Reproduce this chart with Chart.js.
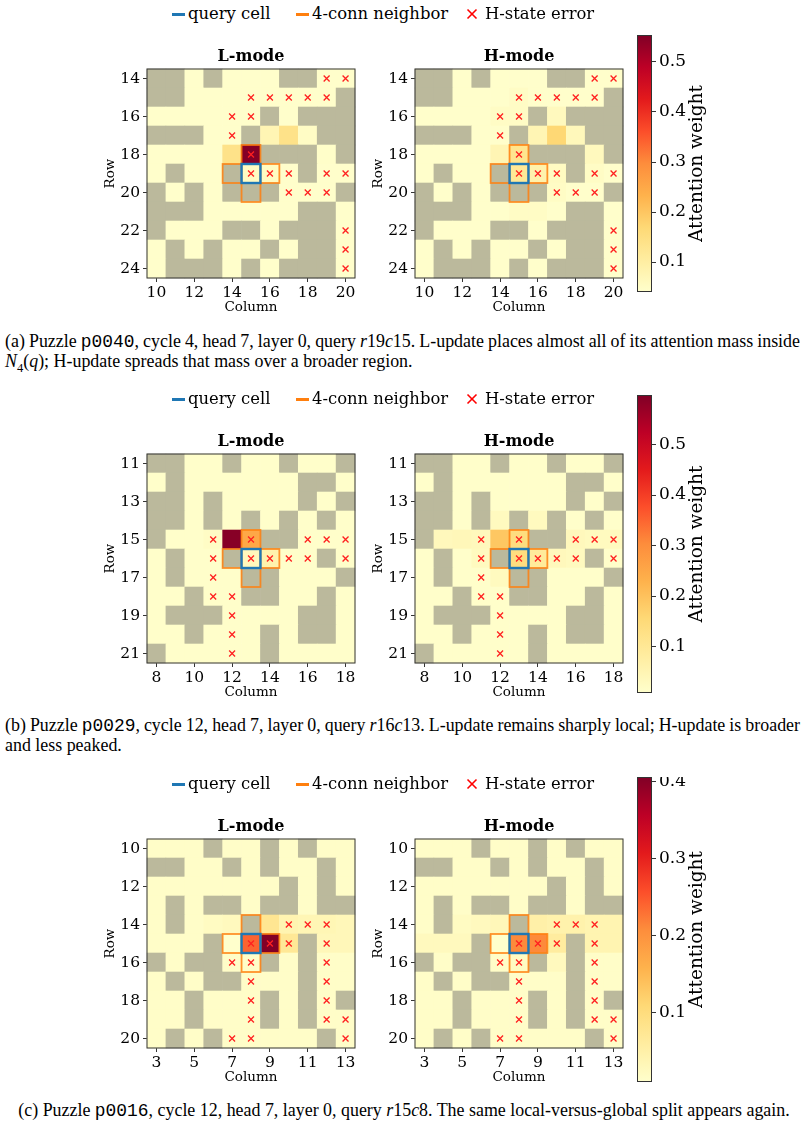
<!DOCTYPE html>
<html><head><meta charset="utf-8">
<script src="https://cdn.jsdelivr.net/npm/chart.js@4.4.1/dist/chart.umd.min.js"></script>
<style>
body{margin:0;background:#fff;}
#fig{position:relative;width:806px;height:1127px;overflow:hidden;background:#fff;}
#fig canvas{position:absolute;}
.li{position:absolute;height:22px;line-height:22px;white-space:nowrap;font-family:'DejaVu Serif';font-size:16.4px;color:#000;}
.sym{position:absolute;height:2.5px;}
.cap{position:absolute;font-family:'Liberation Serif';white-space:nowrap;color:#000;line-height:20px;}
.cap .tt{font-family:'Liberation Mono';}
.cap i{font-style:italic;}
</style></head><body><div id="fig"></div>
<script>
// ---------------- DATA ----------------
const YLORRD = ['#ffffcc','#ffeda0','#fed976','#feb24c','#fd8d3c','#fc4e2a','#e31a1c','#bd0026','#800026'];

// Panel (a)
const aRows = [14,15,16,17,18,19,20,21,22,23,24];
const aCols = [10,11,12,13,14,15,16,17,18,19,20];
const aRowTicks = [14,16,18,20,22,24];
const aColTicks = [10,12,14,16,18,20];
const aMaze = [
 "##.#...##..",
 "##........#",
 "......#.###",
 "###..#...##",
 "......###.#",
 ".#..#...#..",
 "#.#.###...#",
 "###.....##.",
 "#...##.###.",
 ".#.#..#.##.",
 ".###.#.###."];
const aErrors = [[14,19],[14,20],[15,15],[15,16],[15,17],[15,18],[15,19],[16,14],[16,15],[17,14],[18,15],[19,15],[19,16],[19,17],[19,19],[19,20],[20,17],[20,18],[20,19],[22,20],[23,20],[24,20]];
const aQuery = [19,15];
const aBase = 0.042;
const aAttnL = [[18,15,0.55],[18,14,0.14],[17,17,0.14],[17,16,0.075],[19,15,0.055],[19,16,0.055],[17,18,0.05],[18,19,0.045]];
const aAttnH = [[17,17,0.17],[18,15,0.13],[19,15,0.12],[19,16,0.085],[18,14,0.075],[17,16,0.075],[17,18,0.065],[16,17,0.06],[18,19,0.06],[19,17,0.055],[19,19,0.05],[16,14,0.05],[16,15,0.05],[15,15,0.05],[20,17,0.05],[21,15,0.05],[21,16,0.05]];
const aRange = [0.04, 0.554];
const aCbarTicks = [0.1,0.2,0.3,0.4,0.5];

// Panel (b)
const bRows = [11,12,13,14,15,16,17,18,19,20,21];
const bCols = [8,9,10,11,12,13,14,15,16,17,18];
const bRowTicks = [11,13,15,17,19,21];
const bColTicks = [8,10,12,14,16,18];
const bMaze = [
 "##..#..#..#",
 ".#......##.",
 "##.#....#.#",
 "##.#.#.#.#.",
 "#.....##...",
 ".#..#....#.",
 ".#...##...#",
 "..#..##..#.",
 ".###....##.",
 "..#...#.##.",
 "#.....#...."];
const bErrors = [[15,11],[15,13],[15,16],[15,17],[15,18],[16,11],[16,13],[16,14],[16,15],[16,16],[16,18],[17,11],[18,11],[18,12],[19,12],[20,12],[21,12]];
const bQuery = [16,13];
const bBase = 0.012;
const bAttnL = [[15,12,0.59],[15,13,0.25],[16,14,0.06],[16,13,0.035],[15,11,0.02]];
const bAttnH = [[15,12,0.19],[15,13,0.14],[16,13,0.14],[16,14,0.09],[15,10,0.04],[15,9,0.035],[15,11,0.035],[16,15,0.035],[15,16,0.035],[15,17,0.03],[15,18,0.03],[16,16,0.03],[16,11,0.03],[14,12,0.03],[14,14,0.03],[17,12,0.03]];
const bRange = [0.008, 0.598];
const bCbarTicks = [0.1,0.2,0.3,0.4,0.5];

// Panel (c)
const cRows = [10,11,12,13,14,15,16,17,18,19,20];
const cCols = [3,4,5,6,7,8,9,10,11,12,13];
const cRowTicks = [10,12,14,16,18,20];
const cColTicks = [3,5,7,9,11,13];
const cMaze = [
 "...#..#.#..",
 "##..#.#..#.",
 ".......#.#.",
 ".#.##.##.##",
 ".#...#.....",
 "...#....#..",
 "#.##..#.#..",
 ".#.##...#..",
 "..#...#.#.#",
 "..#...#.#..",
 ".#.#.....#."];
const cErrors = [[14,10],[14,11],[14,12],[15,8],[15,9],[15,10],[15,12],[16,7],[16,8],[16,12],[17,8],[17,12],[18,8],[18,12],[19,8],[19,12],[19,13],[20,7],[20,8],[20,13]];
const cQuery = [15,8];
const cBase = 0.014;
const cAttnL = [[15,9,0.405],[15,8,0.24],[14,9,0.075],[15,10,0.07],[14,10,0.04],[14,11,0.035],[14,12,0.035],[15,12,0.03],[15,13,0.03],[14,13,0.03],[14,7,0.025],[14,6,0.02],[15,7,0.009]];
const cAttnH = [[15,8,0.21],[15,9,0.21],[15,10,0.06],[14,9,0.05],[14,10,0.045],[14,11,0.045],[14,12,0.04],[14,13,0.04],[15,12,0.04],[15,13,0.04],[14,7,0.03],[14,6,0.025],[15,3,0.025],[15,4,0.025],[15,5,0.025],[15,7,0.009],[16,8,0.02],[16,10,0.025],[14,5,0.02]];
const cRange = [0.009, 0.406];
const cCbarTicks = [0.1,0.2,0.3,0.4];

const legendLabels = ['query cell','4-conn neighbor','H-state error'];
const modeTitles = ['L-mode','H-mode'];

// ---------------- RENDER ----------------
Chart.defaults.font.family = "'DejaVu Serif'";
Chart.defaults.color = '#000';
const fig = document.getElementById('fig');
const WALL = '#bbb99c';

function hexRgb(h){return [parseInt(h.slice(1,3),16),parseInt(h.slice(3,5),16),parseInt(h.slice(5,7),16)];}
function cmap(t){
  t=Math.max(0,Math.min(1,t));
  const n=YLORRD.length-1, f=t*n, i=Math.min(Math.floor(f),n-1), u=f-i;
  const a=hexRgb(YLORRD[i]), b=hexRgb(YLORRD[i+1]);
  return 'rgb('+a.map((v,k)=>Math.round(v+(b[k]-v)*u)).join(',')+')';
}

function heatmap(o){
  const YW=60, TOPH=30, XH=42, PR=14;
  const cv=document.createElement('canvas');
  const W=208+YW+PR, H=TOPH+209+XH;
  cv.width=W; cv.height=H;
  cv.style.left=(o.left-YW)+'px'; cv.style.top=(o.top-TOPH)+'px';
  fig.appendChild(cv);
  const rows=o.rows, cols=o.cols;
  const attn={}; o.attn.forEach(([r,c,v])=>{attn[r+'_'+c]=v;});
  const cellPlugin={id:'cells',beforeDatasetsDraw(chart){
    const {ctx,scales:{x,y}}=chart;
    const rect=(r,c)=>{const x0=x.getPixelForValue(c-0.5),x1=x.getPixelForValue(c+0.5),y0=y.getPixelForValue(r-0.5),y1=y.getPixelForValue(r+0.5);return [Math.min(x0,x1),Math.min(y0,y1),Math.abs(x1-x0),Math.abs(y1-y0)];};
    ctx.save();
    rows.forEach((r,ri)=>cols.forEach((c,ci)=>{
      const wall=o.maze[ri][ci]==='#';
      const v=attn[r+'_'+c]!==undefined?attn[r+'_'+c]:o.base;
      ctx.fillStyle=wall?WALL:cmap((v-o.range[0])/(o.range[1]-o.range[0]));
      const [a,b,w,h]=rect(r,c);
      ctx.fillRect(a-0.3,b-0.3,w+0.6,h+0.6);
    }));
    const [qr,qc]=o.query;
    ctx.strokeStyle='rgba(255,127,14,0.85)'; ctx.lineWidth=1.8;
    [[qr-1,qc],[qr+1,qc],[qr,qc-1],[qr,qc+1]].forEach(([r,c])=>{const [a,b,w,h]=rect(r,c);ctx.strokeRect(a,b,w,h);});
    ctx.strokeStyle='#1f77b4'; ctx.lineWidth=2.4;
    {const [a,b,w,h]=rect(qr,qc);ctx.strokeRect(a,b,w,h);}
    const ca=chart.chartArea;
    ctx.strokeStyle='#333'; ctx.lineWidth=1;
    ctx.strokeRect(ca.left,ca.top,ca.right-ca.left,ca.bottom-ca.top);
    ctx.restore();
  }};
  new Chart(cv,{type:'scatter',
    data:{datasets:[{data:o.errors.map(([r,c])=>({x:c,y:r})),pointStyle:'crossRot',pointRadius:4.2,borderColor:'#ff2020',borderWidth:1.3,backgroundColor:'rgba(0,0,0,0)'}]},
    options:{responsive:false,animation:false,events:[],
      layout:{padding:{left:0,right:PR,top:0,bottom:0}},
      plugins:{legend:{display:false},tooltip:{enabled:false},
        title:{display:true,text:o.title,fullSize:false,font:{family:"'DejaVu Serif'",size:16,weight:'bold'},color:'#000',padding:{top:8.4,bottom:2.4}}},
      scales:{
        x:{type:'linear',min:cols[0]-0.5,max:cols[cols.length-1]+0.5,
          afterBuildTicks:s=>{s.ticks=o.colTicks.map(v=>({value:v}));},
          afterFit:s=>{s.height=XH;s.paddingLeft=0;s.paddingRight=0;},
          ticks:{font:{size:15.5},color:'#000',padding:2,maxRotation:0,autoSkip:false},
          grid:{drawOnChartArea:false,drawTicks:true,tickLength:4,color:'#000',lineWidth:0.8},
          border:{display:false},
          title:{display:true,text:'Column',font:{size:13.5},color:'#000',padding:{top:0,bottom:4}}},
        y:{type:'linear',reverse:true,min:rows[0]-0.5,max:rows[rows.length-1]+0.5,
          afterBuildTicks:s=>{s.ticks=o.rowTicks.map(v=>({value:v}));},
          afterFit:s=>{s.width=YW;s.paddingTop=0;s.paddingBottom=0;},
          ticks:{font:{size:15.5},color:'#000',padding:3,autoSkip:false},
          grid:{drawOnChartArea:false,drawTicks:true,tickLength:4,color:'#000',lineWidth:0.8},
          border:{display:false},
          title:{display:true,text:'Row',font:{size:13.5},color:'#000',padding:{top:15,bottom:0}}}
      }},
    plugins:[cellPlugin]});
}

function colorbar(o){
  const CW=15, AW=80;
  const cv=document.createElement('canvas');
  cv.width=CW+AW; cv.height=o.height;
  cv.style.left='637px'; cv.style.top=o.top+'px';
  fig.appendChild(cv);
  const cbPlugin={id:'cb',beforeDatasetsDraw(chart){
    const {ctx,chartArea:ca}=chart;
    ctx.save();
    const g=ctx.createLinearGradient(0,ca.bottom,0,ca.top);
    YLORRD.forEach((c,i)=>g.addColorStop(i/(YLORRD.length-1),c));
    ctx.fillStyle=g; ctx.fillRect(ca.left,ca.top,ca.right-ca.left,ca.bottom-ca.top);
    ctx.strokeStyle='#333'; ctx.lineWidth=1;
    ctx.strokeRect(ca.left+0.5,ca.top+0.5,ca.right-ca.left-1,ca.bottom-ca.top-1);
    ctx.translate(ca.right+45,(ca.top+ca.bottom)/2); ctx.rotate(-Math.PI/2);
    ctx.fillStyle='#000'; ctx.font="18.5px 'DejaVu Serif'"; ctx.textAlign='center'; ctx.textBaseline='middle';
    ctx.fillText('Attention weight',0,0);
    ctx.restore();
  }};
  new Chart(cv,{type:'scatter',data:{datasets:[{data:[]}]},
    options:{responsive:false,animation:false,events:[],
      layout:{padding:0},
      plugins:{legend:{display:false},tooltip:{enabled:false}},
      scales:{
        x:{display:false,min:0,max:1},
        y:{type:'linear',position:'right',min:o.range[0],max:o.range[1],
          afterBuildTicks:s=>{s.ticks=o.ticks.map(v=>({value:v}));},
          afterFit:s=>{s.width=AW;s.paddingTop=0;s.paddingBottom=0;},
          ticks:{font:{size:17},color:'#000',padding:3,autoSkip:false},
          grid:{drawOnChartArea:false,drawTicks:true,tickLength:4,color:'#000',lineWidth:0.8},
          border:{display:false}}
      }},
    plugins:[cbPlugin]});
}

function legend(cy){
  const mk=(html,left)=>{const d=document.createElement('div');d.className='li';d.style.left=left+'px';d.style.top=(cy-11)+'px';d.innerHTML=html;fig.appendChild(d);};
  const line=(left,color)=>{const d=document.createElement('div');d.className='sym';d.style.left=left+'px';d.style.top=(cy-1)+'px';d.style.width='13px';d.style.background=color;fig.appendChild(d);};
  line(172,'#1f77b4'); mk(legendLabels[0],188);
  line(296,'#ff7f0e'); mk(legendLabels[1],312);
  const s=document.createElementNS('http://www.w3.org/2000/svg','svg');
  s.setAttribute('width','12');s.setAttribute('height','12');
  s.style.position='absolute';s.style.left='466px';s.style.top=(cy-6)+'px';
  s.innerHTML='<line x1="1.5" y1="1.5" x2="10.5" y2="10.5" stroke="#ff0000" stroke-width="1.6"/><line x1="10.5" y1="1.5" x2="1.5" y2="10.5" stroke="#ff0000" stroke-width="1.6"/>';
  fig.appendChild(s);
  mk(legendLabels[2],485);
}

const panels=[
 {top:69, rows:aRows, cols:aCols, rowTicks:aRowTicks, colTicks:aColTicks, maze:aMaze, errors:aErrors, query:aQuery, base:aBase, L:aAttnL, H:aAttnH, range:aRange, cbTicks:aCbarTicks, cbTop:35, cbH:257},
 {top:454, rows:bRows, cols:bCols, rowTicks:bRowTicks, colTicks:bColTicks, maze:bMaze, errors:bErrors, query:bQuery, base:bBase, L:bAttnL, H:bAttnH, range:bRange, cbTicks:bCbarTicks, cbTop:395, cbH:298},
 {top:839, rows:cRows, cols:cCols, rowTicks:cRowTicks, colTicks:cColTicks, maze:cMaze, errors:cErrors, query:cQuery, base:cBase, L:cAttnL, H:cAttnH, range:cRange, cbTicks:cCbarTicks, cbTop:777, cbH:305}
];
panels.forEach(p=>{
  [['L',147],['H',415]].forEach(([m,left],i)=>{
    heatmap({left, top:p.top, rows:p.rows, cols:p.cols, rowTicks:p.rowTicks, colTicks:p.colTicks, maze:p.maze, errors:p.errors, query:p.query, base:p.base, attn:p[m], range:p.range, title:modeTitles[i]});
  });
  colorbar({top:p.cbTop, height:p.cbH, range:p.range, ticks:p.cbTicks});
  legend(p.top-55);
});

// ---------------- CAPTIONS ----------------
const captions=[
 {cy:341, left:5, width:795, justify:true, html:'(a) Puzzle <span class="tt">p0040</span>, cycle 4, head 7, layer 0, query <i>r</i>19<i>c</i>15. L-update places almost all of its attention mass inside'},
 {cy:361, left:5, html:'<i>N</i><sub style="font-size:70%;line-height:0">4</sub>(<i>q</i>); H-update spreads that mass over a broader region.'},
 {cy:725, left:5, width:795, justify:true, html:'(b) Puzzle <span class="tt">p0029</span>, cycle 12, head 7, layer 0, query <i>r</i>16<i>c</i>13. L-update remains sharply local; H-update is broader'},
 {cy:745, left:5, html:'and less peaked.'},
 {cy:1110, center:404, width:772, calib:true, html:'(c) Puzzle <span class="tt">p0016</span>, cycle 12, head 7, layer 0, query <i>r</i>15<i>c</i>8. The same local-versus-global split appears again.'}
];
const els=captions.map(c=>{const d=document.createElement('div');d.className='cap';d.innerHTML=c.html;d.style.fontSize='16px';d.style.top=(c.cy-10)+'px';d.style.left='0px';fig.appendChild(d);return d;});
const ci=captions.findIndex(c=>c.calib);
const fs=16*captions[ci].width/els[ci].getBoundingClientRect().width;
captions.forEach((c,i)=>{
  const d=els[i]; d.style.fontSize=fs+'px';
  let w=d.getBoundingClientRect().width;
  if(c.justify){const n=(d.textContent.match(/ /g)||[]).length; d.style.wordSpacing=((c.width-w)/n)+'px'; w=c.width;}
  d.style.left=(c.center!==undefined?(c.center-w/2):c.left)+'px';
});
</script></body></html>
